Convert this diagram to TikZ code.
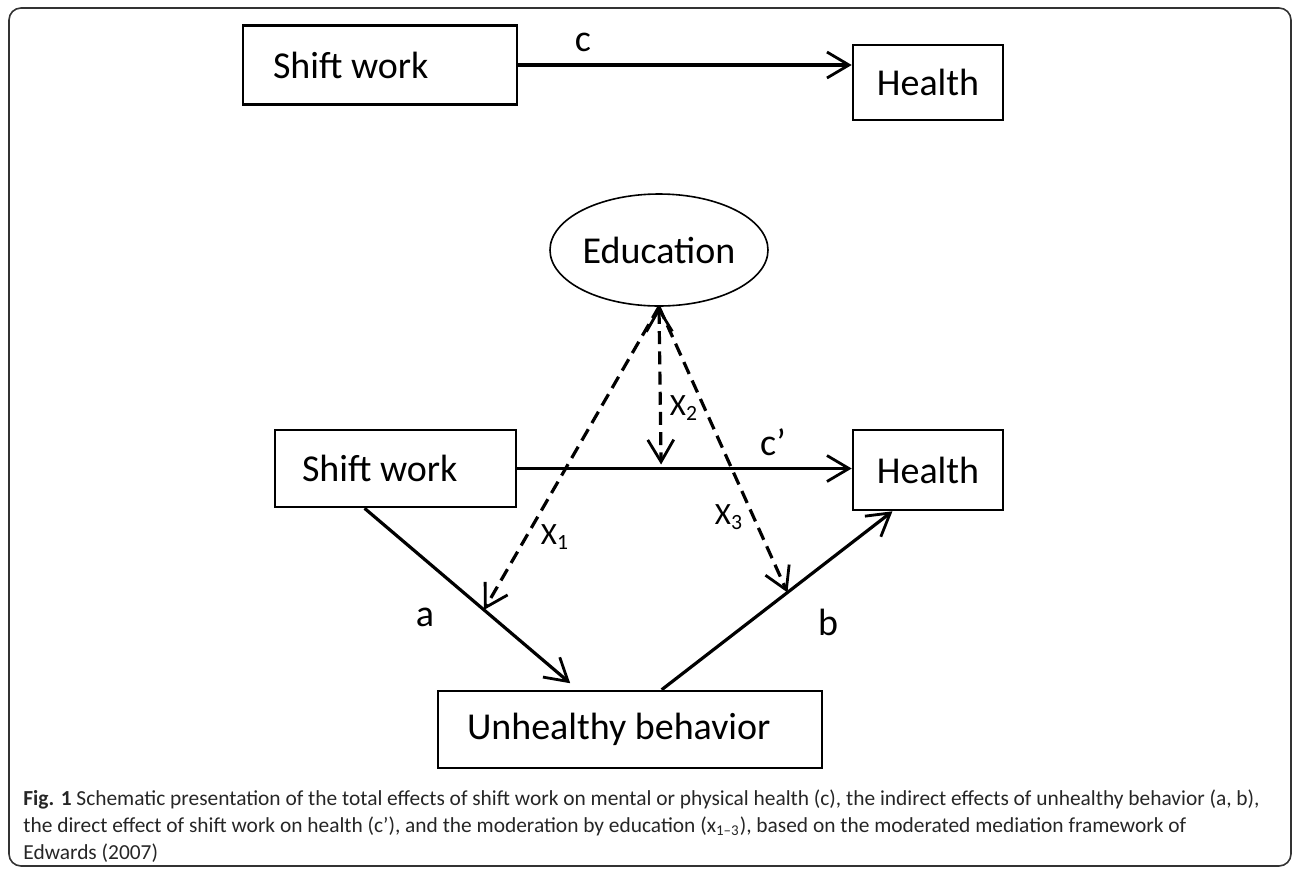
\documentclass[tikz,border=0pt]{standalone}
\usepackage{fontspec}
\setmainfont{Carlito}
\usetikzlibrary{arrows.meta,calc,shapes.geometric}
\newcommand{\lefttext}[2]{\makebox[#1][l]{#2}}
\tikzset{
  box/.style={draw, line width=1.3pt, rectangle, inner ysep=0pt, inner xsep=0pt, font=\fontsize{19}{22}\selectfont},
  ell/.style={draw, line width=0.8pt, ellipse, inner sep=0pt, font=\fontsize{19}{22}\selectfont},
  arr/.style={line width=1.6pt, -{Straight Barb[length=11pt,width=13pt,line width=1.4pt]}},
  darr/.style={line width=1.6pt, dash pattern=on 6.5pt off 3.6pt},
  lbl/.style={inner sep=0pt, font=\fontsize{19}{22}\selectfont},
  xlbl/.style={inner sep=0pt, font=\fontsize{15.5}{18}\selectfont},
  captext/.style={anchor=base west, inner sep=0pt, font=\fontsize{10.7}{12}\selectfont, text=black!85}
}
\begin{document}
\begin{tikzpicture}[x=0.5pt,y=-0.5pt]
\useasboundingbox (0,0) rectangle (1292,869);
% frame
\draw[line width=0.8pt, black!80, rounded corners=6pt] (9,8) rectangle (1291,866);

% top row
\node[box, minimum width=137pt, minimum height=39.5pt] (sw1) at (380,65) {\lefttext{107pt}{Shift work}};
\node[box, minimum width=75pt, minimum height=37.5pt] (h1) at (928,82.5) {Health};
\draw[arr] (sw1.east) -- (sw1.east -| h1.west);
\node[lbl] (lc) at (583,42) {c};

% moderated mediation
\node[ell, minimum width=109pt, minimum height=56pt] (ed) at (659,250) {Education};
\node[box, minimum width=120.5pt, minimum height=38.5pt] (sw2) at (395.5,468.5) {\lefttext{93.5pt}{Shift work}};
\node[box, minimum width=75pt, minimum height=40pt] (h2) at (928,470) {Health};
\node[box, minimum width=192pt, minimum height=38.5pt] (ub) at (630,729.5) {\lefttext{163pt}{Unhealthy behavior}};

\coordinate (aS) at ($(sw2.south west)!0.373!(sw2.south east)$);
\coordinate (aE) at ($(ub.north west)!0.365!(ub.north east)$);
\coordinate (bS) at ($(ub.north west)!0.582!(ub.north east)$);
\coordinate (bE) at ($(h2.south west)!0.267!(h2.south east)$);
\coordinate (cS) at (sw2.east);
\coordinate (cE) at (sw2.east -| h2.west);

\draw[arr] (cS) -- (cE);
\draw[arr, shorten >=5pt] (aS) -- (aE);
\draw[arr] (bS) -- (bE);

\coordinate (apex) at (ed.south);
\coordinate (x1E) at ($(aS)!0.56!(aE)$);
\coordinate (x2E) at ($(cS)!0.43!(cE)$);
\coordinate (x3E) at ($(bS)!0.545!(bE)$);

\draw[darr, {Straight Barb[length=11pt,width=13pt,line width=1.4pt]}-{Straight Barb[length=11pt,width=13pt,line width=1.4pt]}] (apex) -- ([yshift=2pt]x2E);
\draw[darr, -{Straight Barb[length=11pt,width=13pt,line width=1.4pt]}] (apex) -- (x1E);
\draw[darr, -{Straight Barb[length=11pt,width=13pt,line width=1.4pt]}] (apex) -- (x3E);

\node[xlbl] (lx1) at (555,537) {X\textsubscript{1}};
\node[xlbl] (lx2) at (684,408) {X\textsubscript{2}};
\node[xlbl] (lx3) at (729,517) {X\textsubscript{3}};
\node[lbl] (lcp) at (773,442) {c’};
\node[lbl] (la) at (425,617) {a};
\node[lbl] (lb) at (828,622) {b};

% caption
\node[captext] (cap1) at (23,805) {\textbf{Fig. 1} Schematic presentation of the total effects of shift work on mental or physical health (c), the indirect effects of unhealthy behavior (a, b),};
\node[captext] (cap2) at (23,832) {the direct effect of shift work on health (c’), and the moderation by education (x\textsubscript{1–3}), based on the moderated mediation framework of};
\node[captext] (cap3) at (23,859) {Edwards (2007)};
\end{tikzpicture}
\end{document}
